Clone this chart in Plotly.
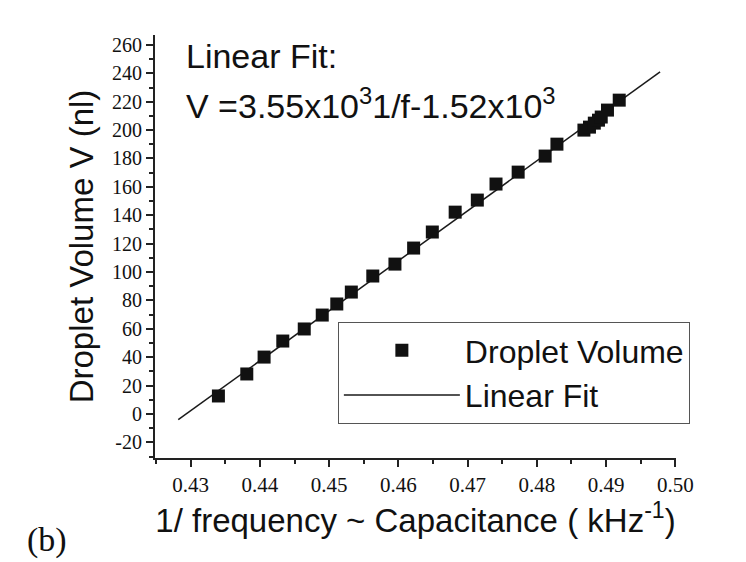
import plotly.graph_objects as go

# Data
inv_freq = [0.4340, 0.4381, 0.4406, 0.4433, 0.4464, 0.4490, 0.4511, 0.4532,
            0.4563, 0.4595, 0.4622, 0.4649, 0.4682, 0.4714, 0.4741, 0.4773,
            0.4812, 0.4829, 0.4868, 0.4876, 0.4883, 0.4889, 0.4893, 0.4902,
            0.4919]
volume = [12.7, 28.2, 40.1, 51.4, 59.9, 69.7, 77.5, 85.9,
          97.2, 105.6, 116.9, 128.2, 142.2, 150.7, 162.0, 170.4,
          181.7, 190.1, 200.0, 202.1, 204.9, 207.0, 209.2, 214.1,
          221.1]
fit_x = [0.4282, 0.4978]
fit_y = [-4.0, 241.0]

x_ticks = [0.43, 0.44, 0.45, 0.46, 0.47, 0.48, 0.49, 0.50]
x_tick_labels = ["0.43", "0.44", "0.45", "0.46", "0.47", "0.48", "0.49", "0.50"]
y_ticks = list(range(-20, 261, 20))
y_tick_labels = [str(v) for v in y_ticks]

fig = go.Figure()
fig.add_trace(go.Scatter(
    x=fit_x, y=fit_y, mode="lines", name="Linear Fit",
    line=dict(color="#1a1a1a", width=1.5), legendrank=2))
fig.add_trace(go.Scatter(
    x=inv_freq, y=volume, mode="markers", name="Droplet Volume",
    marker=dict(symbol="square", size=13, color="#111111"), legendrank=1))

axis_common = dict(
    showgrid=False, zeroline=False, showline=True, linecolor="#222222",
    linewidth=2, ticks="outside", ticklen=7, tickwidth=1.5, tickcolor="#222222",
    mirror=False,
)

fig.update_xaxes(
    range=[0.42484, 0.5001], tickvals=x_ticks, ticktext=x_tick_labels,
    tickfont=dict(family="Liberation Serif", size=21, color="#111111"),
    minor=dict(ticks="outside", ticklen=4, tickwidth=1.5, tickcolor="#222222", dtick=0.005, tick0=0.425),
    title=dict(text="1/ frequency ~ Capacitance ( kHz<sup>-1</sup>)",
               font=dict(family="Liberation Sans", size=33, color="#111111"), standoff=2),
    **axis_common)
fig.update_yaxes(
    range=[-31, 267], tickvals=y_ticks, ticktext=y_tick_labels,
    tickfont=dict(family="Liberation Serif", size=20, color="#111111"),
    minor=dict(ticks="outside", ticklen=4, tickwidth=1.5, tickcolor="#222222", dtick=10, tick0=0),
    title=dict(text="Droplet Volume V (nl)",
               font=dict(family="Liberation Sans", size=33, color="#111111"), standoff=8),
    **axis_common)

fig.add_annotation(xref="paper", yref="paper", x=0.056, y=0.950, xanchor="left", yanchor="middle",
                   text="Linear Fit:", showarrow=False,
                   font=dict(family="Liberation Sans", size=34, color="#111111"))
fig.add_annotation(xref="paper", yref="paper", x=0.056, y=0.839, xanchor="left", yanchor="middle",
                   text="V =3.55x10<sup>3</sup>1/f-1.52x10<sup>3</sup>", showarrow=False,
                   font=dict(family="Liberation Sans", size=34, color="#111111"))
fig.add_annotation(xref="paper", yref="paper", x=-0.2495, y=-0.194, xanchor="left", yanchor="middle",
                   text="(b)", showarrow=False,
                   font=dict(family="Liberation Serif", size=34, color="#111111"))

fig.update_layout(
    width=746, height=562,
    margin=dict(l=155, r=70, t=35, b=104),
    paper_bgcolor="white", plot_bgcolor="white",
    showlegend=True,
    legend=dict(x=0.351, y=0.3215, xanchor="left", yanchor="top",
                bordercolor="#555555", borderwidth=1, bgcolor="white",
                font=dict(family="Liberation Sans", size=32, color="#111111"),
                itemwidth=116, tracegroupgap=0),
)

fig.write_html("out.html")
